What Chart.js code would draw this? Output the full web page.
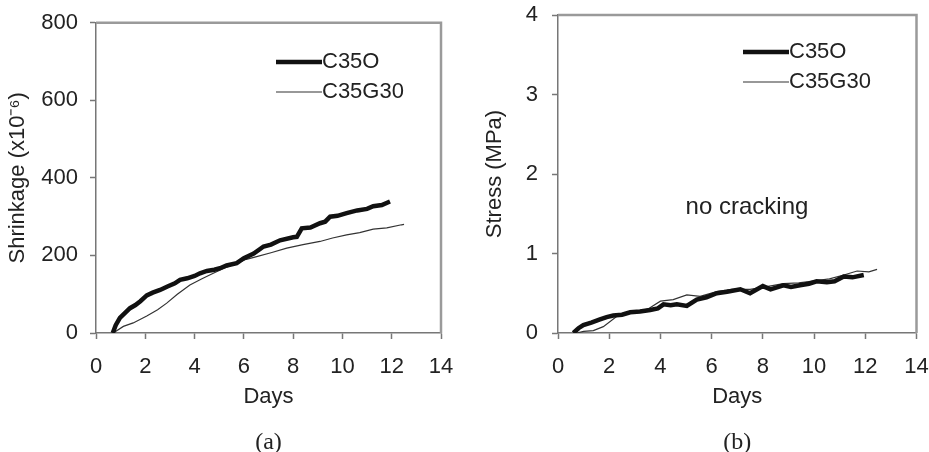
<!DOCTYPE html>
<html>
<head>
<meta charset="utf-8">
<script src="https://cdn.jsdelivr.net/npm/chart.js@4.4.0/dist/chart.umd.min.js"></script>
<style>
  body { margin: 0; background: #fff; }
  .wrap { position: absolute; top: 0; }
</style>
</head>
<body>
<div class="wrap" style="left:0px"><canvas id="chartA" width="460" height="452"></canvas></div>
<div class="wrap" style="left:460px"><canvas id="chartB" width="469" height="452"></canvas></div>
<script>
// series names and tick settings
var seriesNames = ["C35O", "C35G30"];
var dayTicks = [0, 14, 2];          // min, max, step
var shrinkTicks = [0, 800, 200];
var stressTicks = [0, 4, 1];

// (a) shrinkage, C35O
var daysA1 = [0.68, 0.8, 0.97, 1.2, 1.38, 1.6, 1.8, 2.06, 2.3, 2.6, 2.9, 3.2, 3.41, 3.7, 4.0, 4.22, 4.5, 4.8, 5.03, 5.3, 5.71, 6.0, 6.4, 6.8, 7.1, 7.47, 8.0, 8.15, 8.35, 8.7, 9.09, 9.3, 9.5, 9.8, 10.17, 10.6, 11.0, 11.25, 11.6, 11.93];
var shrinkA1 = [0, 20, 39, 53, 64, 72, 82, 97, 104, 111, 120, 128, 137, 141, 147, 154, 160, 163, 167, 174, 180, 193, 205, 223, 228, 239, 247, 248, 270, 272, 283, 287, 300, 302, 309, 316, 320, 327, 330, 339];
// (a) shrinkage, C35G30
var daysA2 = [0.7, 1.11, 1.51, 2.06, 2.5, 2.87, 3.3, 3.81, 4.3, 4.76, 5.2, 5.71, 6.1, 6.52, 7.1, 7.74, 8.4, 9.09, 9.6, 10.17, 10.7, 11.25, 11.8, 12.4, 12.5];
var shrinkA2 = [0, 17, 26, 44, 60, 77, 100, 124, 140, 154, 167, 180, 190, 197, 207, 219, 228, 236, 245, 253, 259, 268, 271, 279, 280];

// (b) stress, C35O
var daysB1 = [0.6, 0.8, 0.99, 1.3, 1.64, 1.9, 2.16, 2.5, 2.82, 3.2, 3.6, 3.9, 4.12, 4.4, 4.64, 5.03, 5.42, 5.8, 6.2, 6.6, 7.12, 7.5, 8.0, 8.3, 8.8, 9.1, 9.45, 9.8, 10.1, 10.5, 10.8, 11.16, 11.5, 11.94];
var stressB1 = [0, 0.06, 0.1, 0.13, 0.17, 0.2, 0.22, 0.23, 0.26, 0.27, 0.29, 0.31, 0.36, 0.35, 0.36, 0.34, 0.42, 0.45, 0.5, 0.52, 0.55, 0.5, 0.59, 0.55, 0.6, 0.58, 0.6, 0.62, 0.65, 0.64, 0.65, 0.71, 0.7, 0.73];
// (b) stress, C35G30
var daysB2 = [0.73, 1.0, 1.38, 1.77, 2.3, 2.95, 3.5, 4.0, 4.5, 5.03, 5.55, 6.2, 6.8, 7.5, 8.1, 8.8, 9.4, 10.1, 10.6, 11.16, 11.68, 12.14, 12.46];
var stressB2 = [0, 0.02, 0.03, 0.08, 0.21, 0.26, 0.3, 0.4, 0.42, 0.48, 0.46, 0.52, 0.55, 0.55, 0.58, 0.62, 0.63, 0.66, 0.68, 0.73, 0.78, 0.77, 0.8];

var sans = "'Liberation Sans', Arial, sans-serif";
var ink = "#222";

function pts(xs, ys) {
    return xs.map(function (x, i) { return { x: x, y: ys[i] }; });
}

// legend sample: line drawn on the right part so it touches the label
function lineSample(w, lw, col) {
    var c = document.createElement("canvas");
    c.width = w + 22;
    c.height = 10;
    var g = c.getContext("2d");
    g.strokeStyle = col;
    g.lineWidth = lw;
    g.beginPath();
    g.moveTo(22, 5);
    g.lineTo(w + 22, 5);
    g.stroke();
    return c;
}
var samples = [lineSample(46, 4.5, "#111"), lineSample(46, 1.2, "#333")];

// gray frame on top and right of the plot
var frame = {
    id: "frame",
    beforeDatasetsDraw: function (chart) {
        var a = chart.chartArea, ctx = chart.ctx;
        ctx.save();
        ctx.strokeStyle = "#9a9a9a";
        ctx.lineWidth = 2.5;
        ctx.beginPath();
        ctx.moveTo(a.left, a.top);
        ctx.lineTo(a.right, a.top);
        ctx.lineTo(a.right, a.bottom);
        ctx.stroke();
        ctx.restore();
    }
};

// put the legend in the upper right of the plot
var moveLegend = {
    id: "moveLegend",
    afterLayout: function (chart, args, opts) {
        var lg = chart.legend;
        lg.left = opts.left;
        lg.top = opts.top;
        lg.right = opts.left + 200;
        lg.bottom = opts.top + 100;
        lg.width = 200;
        lg.height = 100;
    }
};

var note = {
    id: "note",
    afterDatasetsDraw: function (chart, args, opts) {
        if (!opts.text) return;
        var ctx = chart.ctx;
        ctx.save();
        ctx.font = "24px " + sans;
        ctx.fillStyle = ink;
        ctx.textAlign = "center";
        ctx.textBaseline = "middle";
        ctx.fillText(opts.text, chart.scales.x.getPixelForValue(opts.x), chart.scales.y.getPixelForValue(opts.y));
        ctx.restore();
    }
};

function panel(id, p) {
    return new Chart(id, {
        type: "line",
        data: {
            datasets: [
                { label: seriesNames[0], data: pts(p.x1, p.y1), borderColor: "#111", borderWidth: 4.5, pointRadius: 0, tension: 0 },
                { label: seriesNames[1], data: pts(p.x2, p.y2), borderColor: "#333", borderWidth: 1.2, pointRadius: 0, tension: 0 }
            ]
        },
        options: {
            responsive: false,
            animation: false,
            devicePixelRatio: 1,
            events: [],
            layout: { padding: { left: 0, right: p.padRight, top: p.top, bottom: 0 } },
            scales: {
                x: {
                    type: "linear",
                    min: dayTicks[0], max: dayTicks[1],
                    ticks: { stepSize: dayTicks[2], font: { size: 22, family: sans }, color: ink, padding: 15, maxRotation: 0 },
                    grid: { drawOnChartArea: false, tickLength: 6, tickColor: "#777", tickWidth: 1.5 },
                    border: { color: "#777", width: 1.5 },
                    title: { display: true, text: "Days", font: { size: 22, family: sans }, color: ink, padding: { top: 0, bottom: 22.6 } },
                    afterFit: function (s) { s.height = 99.8; s.paddingLeft = 0; s.paddingRight = 0; }
                },
                y: {
                    min: p.yTicks[0], max: p.yTicks[1],
                    ticks: { stepSize: p.yTicks[2], font: { size: 22, family: sans }, color: ink, padding: p.yPad },
                    grid: { drawOnChartArea: false, tickLength: 6, tickColor: "#777", tickWidth: 1.5 },
                    border: { color: "#777", width: 1.5 },
                    title: { display: true, text: p.yTitle, font: { size: 22, family: sans }, color: ink, padding: { top: p.yTitlePad, bottom: 0 } },
                    afterFit: function (s) { s.width = p.yWidth; s.paddingTop = 0; s.paddingBottom = 0; }
                }
            },
            plugins: {
                tooltip: { enabled: false },
                legend: {
                    position: "chartArea",
                    align: "start",
                    labels: {
                        usePointStyle: true,
                        pointStyleWidth: 46,
                        font: { size: 22, family: sans },
                        color: ink,
                        padding: 8,
                        generateLabels: function (chart) {
                            return chart.data.datasets.map(function (ds, i) {
                                return { text: ds.label, pointStyle: samples[i], datasetIndex: i, fontColor: ink, lineWidth: 0, hidden: false };
                            });
                        }
                    }
                },
                moveLegend: { left: p.legLeft, top: p.legTop },
                title: {
                    display: true,
                    position: "bottom",
                    fullSize: false,
                    text: p.caption,
                    font: { size: 24, family: "'Liberation Serif', 'Times New Roman', serif", weight: "normal", lineHeight: 0.8 },
                    color: ink,
                    padding: { top: 0, bottom: 0 }
                },
                note: p.note || {}
            }
        },
        plugins: [frame, moveLegend, note]
    });
}

panel("chartA", {
    x1: daysA1, y1: shrinkA1, x2: daysA2, y2: shrinkA2,
    yTicks: shrinkTicks, yTitle: "Shrinkage (x10\u207B\u2076)",
    top: 22.7, padRight: 19, yWidth: 96, yPad: 12, yTitlePad: 4.3,
    legLeft: 257, legTop: 43, caption: "(a)"
});

panel("chartB", {
    x1: daysB1, y1: stressB1, x2: daysB2, y2: stressB2,
    yTicks: stressTicks, yTitle: "Stress (MPa)",
    top: 15, padRight: 12.5, yWidth: 98, yPad: 14, yTitlePad: 21.8,
    legLeft: 264, legTop: 33, caption: "(b)",
    note: { text: "no cracking", x: 7.38, y: 1.585 }
});
</script>
</body>
</html>
